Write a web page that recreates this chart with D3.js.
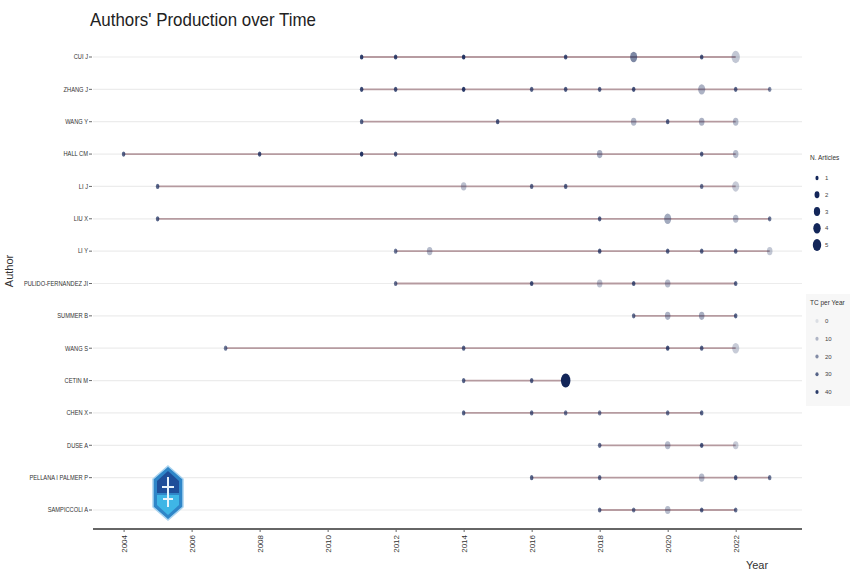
<!DOCTYPE html>
<html>
<head>
<meta charset="utf-8">
<script src="https://cdn.jsdelivr.net/npm/d3@7"></script>
<style>
  body { margin: 0; background: #fff; }
  text { font-family: "Liberation Sans", Arial, sans-serif; }
</style>
</head>
<body>
<div id="chart"></div>
<script>
var width = 857,
    height = 575;

// authors, top to bottom
var authors = ["CUI J", "ZHANG J", "WANG Y", "HALL CM", "LI J", "LIU X", "LI Y",
    "PULIDO-FERNANDEZ JI", "SUMMER B", "WANG S", "CETIN M", "CHEN X", "DUSE A",
    "PELLANA I PALMER P", "SAMPICCOLI A"];

// publication years for each author
var prodYears = [
    [2011, 2012, 2014, 2017, 2019, 2021, 2022],
    [2011, 2012, 2014, 2016, 2017, 2018, 2019, 2021, 2022, 2023],
    [2011, 2015, 2019, 2020, 2021, 2022],
    [2004, 2008, 2011, 2012, 2018, 2021, 2022],
    [2005, 2014, 2016, 2017, 2021, 2022],
    [2005, 2018, 2020, 2022, 2023],
    [2012, 2013, 2018, 2020, 2021, 2022, 2023],
    [2012, 2016, 2018, 2019, 2020, 2022],
    [2019, 2020, 2021, 2022],
    [2007, 2014, 2020, 2021, 2022],
    [2014, 2016, 2017],
    [2014, 2016, 2017, 2018, 2020, 2021],
    [2018, 2020, 2021, 2022],
    [2016, 2018, 2021, 2022, 2023],
    [2018, 2019, 2020, 2021, 2022]
];

// number of articles per year
var prodArticles = [
    [1, 1, 1, 1, 3, 1, 4],
    [1, 1, 1, 1, 1, 1, 1, 3, 1, 1],
    [1, 1, 2, 1, 2, 2],
    [1, 1, 1, 1, 2, 1, 2],
    [1, 2, 1, 1, 1, 3],
    [1, 1, 3, 2, 1],
    [1, 2, 1, 1, 1, 1, 2],
    [1, 1, 2, 1, 2, 1],
    [1, 2, 2, 1],
    [1, 1, 1, 1, 3],
    [1, 1, 5],
    [1, 1, 1, 1, 1, 1],
    [1, 2, 1, 2],
    [1, 1, 2, 1, 1],
    [1, 1, 2, 1, 1]
];

// total citations per year
var prodTC = [
    [38, 36, 40, 34, 22, 32, 7],
    [36, 34, 40, 30, 32, 30, 34, 12, 30, 22],
    [30, 32, 11, 30, 12, 10],
    [30, 34, 40, 32, 13, 30, 10],
    [30, 9, 28, 30, 26, 6],
    [30, 30, 14, 10, 26],
    [26, 10, 32, 30, 30, 30, 7],
    [28, 34, 8, 32, 10, 30],
    [28, 12, 13, 30],
    [26, 30, 34, 30, 6],
    [30, 30, 45],
    [30, 28, 26, 24, 26, 30],
    [28, 10, 32, 6],
    [30, 28, 10, 32, 26],
    [28, 26, 10, 30, 28]
];

var xTicks = [2004, 2006, 2008, 2010, 2012, 2014, 2016, 2018, 2020, 2022];
var sizeLegend = [1, 2, 3, 4, 5];
var tcLegend = [0, 10, 20, 30, 40];

var pointColor = "#132659";

var svg = d3.select('#chart')
    .append('svg')
    .attr('width', width)
    .attr('height', height);

var x = d3.scaleLinear()
    .domain([2003.1, 2023.95])
    .range([93, 802]);

var y = d3.scalePoint()
    .domain(authors)
    .range([57, 510]);

var size = d3.scaleSqrt()
    .domain([1, 5])
    .range([2.6, 7]);

var alpha = d3.scaleLinear()
    .domain([0, 45])
    .range([0.12, 1]);

// title
svg.append('text')
    .attr('x', 90)
    .attr('y', 26)
    .attr('font-size', 19)
    .attr('fill', '#222')
    .attr('textLength', 226)
    .attr('lengthAdjust', 'spacingAndGlyphs')
    .text("Authors' Production over Time");

// grid
svg.append('g').selectAll('line')
    .data(authors)
    .enter()
    .append('line')
    .attr('x1', 93)
    .attr('x2', 802)
    .attr('y1', function (d) { return y(d); })
    .attr('y2', function (d) { return y(d); })
    .attr('stroke', '#ececec')
    .attr('stroke-width', 1.2);

// build rows
var rows = authors.map(function (a, i) {
    return {
        author: a,
        points: prodYears[i].map(function (yr, j) {
            return { author: a, year: yr, n: prodArticles[i][j], tc: prodTC[i][j] };
        })
    };
});

// lines
svg.append('g').selectAll('line')
    .data(rows)
    .enter()
    .append('line')
    .attr('x1', function (d) { return x(d3.min(d.points, function (p) { return p.year; })); })
    .attr('x2', function (d) { return x(d3.max(d.points, function (p) { return p.year; })); })
    .attr('y1', function (d) { return y(d.author); })
    .attr('y2', function (d) { return y(d.author); })
    .attr('stroke', '#a8868c')
    .attr('stroke-opacity', 0.8)
    .attr('stroke-width', 1.8);

// points
var allPoints = [].concat.apply([], rows.map(function (r) { return r.points; }));
svg.append('g').selectAll('ellipse')
    .data(allPoints)
    .enter()
    .append('ellipse')
    .attr('cx', function (d) { return x(d.year); })
    .attr('cy', function (d) { return y(d.author); })
    .attr('rx', function (d) { return size(d.n) * 0.68; })
    .attr('ry', function (d) { return size(d.n); })
    .attr('fill', pointColor)
    .attr('fill-opacity', function (d) { return alpha(d.tc); });

// y axis labels (slightly condensed)
var yAxis = svg.append('g');
yAxis.selectAll('text')
    .data(authors)
    .enter()
    .append('text')
    .attr('transform', function (d) { return 'translate(88,' + (y(d) + 2.3) + ') scale(0.88,1)'; })
    .attr('text-anchor', 'end')
    .attr('font-size', 6.5)
    .attr('fill', '#333')
    .text(function (d) { return d; });
yAxis.selectAll('line')
    .data(authors)
    .enter()
    .append('line')
    .attr('x1', 89)
    .attr('x2', 92)
    .attr('y1', function (d) { return y(d); })
    .attr('y2', function (d) { return y(d); })
    .attr('stroke', '#444')
    .attr('stroke-width', 0.8);

// x axis
var xAxis = svg.append('g')
    .attr('transform', 'translate(0,529)')
    .call(d3.axisBottom(x).tickValues(xTicks).tickFormat(d3.format('d')).tickSize(3));
xAxis.select('.domain')
    .attr('stroke', '#333')
    .attr('stroke-width', 1.3)
    .attr('d', 'M93,0H802');
xAxis.selectAll('.tick line').attr('stroke', '#666');
xAxis.selectAll('.tick text')
    .attr('font-size', 8)
    .attr('fill', '#333')
    .attr('font-family', '"Liberation Sans", Arial, sans-serif')
    .attr('transform', 'rotate(-90)')
    .attr('text-anchor', 'end')
    .attr('dy', '0.32em')
    .attr('x', -6)
    .attr('y', 0);

// axis titles
svg.append('text')
    .attr('x', 757)
    .attr('y', 569)
    .attr('font-size', 11)
    .attr('fill', '#333')
    .attr('text-anchor', 'middle')
    .text('Year');

svg.append('text')
    .attr('transform', 'translate(13,271) rotate(-90)')
    .attr('font-size', 11)
    .attr('fill', '#333')
    .attr('text-anchor', 'middle')
    .text('Author');

// legend: N. Articles
var leg1 = svg.append('g');
leg1.append('text')
    .attr('x', 810)
    .attr('y', 160)
    .attr('font-size', 6.5)
    .attr('fill', '#333')
    .text('N. Articles');
var legY1 = d3.scalePoint().domain(sizeLegend).range([178, 245]);
leg1.selectAll('ellipse')
    .data(sizeLegend)
    .enter()
    .append('ellipse')
    .attr('cx', 817)
    .attr('cy', function (d) { return legY1(d); })
    .attr('rx', function (d) { return size(d) * 0.6; })
    .attr('ry', function (d) { return size(d) * 0.85; })
    .attr('fill', pointColor);
leg1.selectAll('text.lab')
    .data(sizeLegend)
    .enter()
    .append('text')
    .attr('class', 'lab')
    .attr('x', 825)
    .attr('y', function (d) { return legY1(d) + 2; })
    .attr('font-size', 6)
    .attr('fill', '#444')
    .text(function (d) { return d; });

// legend: TC per Year
var leg2 = svg.append('g');
leg2.append('rect')
    .attr('x', 806)
    .attr('y', 294)
    .attr('width', 44)
    .attr('height', 112)
    .attr('fill', '#f7f7f7');
leg2.append('text')
    .attr('x', 810)
    .attr('y', 305)
    .attr('font-size', 6.5)
    .attr('fill', '#333')
    .text('TC per Year');
var legY2 = d3.scalePoint().domain(tcLegend).range([321, 392]);
leg2.selectAll('ellipse')
    .data(tcLegend)
    .enter()
    .append('ellipse')
    .attr('cx', 817)
    .attr('cy', function (d) { return legY2(d); })
    .attr('rx', 1.6)
    .attr('ry', 2)
    .attr('fill', pointColor)
    .attr('fill-opacity', function (d) { return alpha(d); });
leg2.selectAll('text.lab')
    .data(tcLegend)
    .enter()
    .append('text')
    .attr('class', 'lab')
    .attr('x', 825)
    .attr('y', function (d) { return legY2(d) + 2; })
    .attr('font-size', 6)
    .attr('fill', '#444')
    .text(function (d) { return d; });

// watermark emblem
var logo = svg.append('g').attr('transform', 'translate(168,493)');
logo.append('path')
    .attr('d', 'M0,-27 L15,-14 L15,14 L0,27 L-15,14 L-15,-14 Z')
    .attr('fill', '#2f86c8')
    .attr('stroke', '#a9d4f0')
    .attr('stroke-width', 1.5);
logo.append('path')
    .attr('d', 'M0,-22 L11,-12 L11,0 L-11,0 L-11,-12 Z')
    .attr('fill', '#1f4f9a');
logo.append('path')
    .attr('d', 'M-11,2 L11,2 L11,12 L0,22 L-11,12 Z')
    .attr('fill', '#3fb6e6');
logo.append('path')
    .attr('d', 'M0,-16 L0,14 M-6,-6 L6,-6 M-5,6 L5,6')
    .attr('stroke', '#e8f4fc')
    .attr('stroke-width', 2)
    .attr('fill', 'none');
</script>
</body>
</html>
